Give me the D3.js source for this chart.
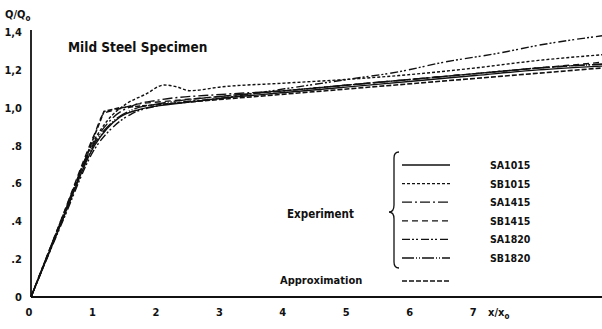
<html>
<head>
  <meta charset="utf-8">
  <title>Mild Steel Specimen</title>
  <style>
    body { margin: 0; background: #fff; }
    text { font-family: "DejaVu Sans Condensed", "DejaVu Sans", Arial; font-weight: bold; fill: #111; }
  </style>
  <script src="https://d3js.org/d3.v7.min.js"></script>
</head>
<body>
  <div id="chart"></div>
  <script>
// tick values and labels
var xTicks = [0, 1, 2, 3, 4, 5, 6, 7];
var yTicks = [0, 0.2, 0.4, 0.6, 0.8, 1.0, 1.2, 1.4];
var yTickLabels = ["0", ".2", ".4", ".6", ".8", "1,0", "1,2", "1,4"];

// series (x/x0, Q/Q0)
var sa1015 = [[0,0],[0.5,0.41],[1.0,0.80],[1.2,0.89],[1.4,0.95],[1.7,0.99],[2,1.01],[2.5,1.03],[3,1.05],[4,1.08],[5,1.11],[6,1.14],[7,1.17],[8,1.20],[9,1.22]];
var sb1015 = [[0,0],[0.5,0.42],[1.0,0.83],[1.2,0.93],[1.5,1.02],[1.8,1.07],[2.1,1.12],[2.3,1.11],[2.5,1.09],[3,1.11],[4,1.13],[5,1.15],[5.8,1.17],[7,1.21],[8,1.25],[9,1.28]];
var sa1415 = [[0,0],[0.5,0.42],[1.0,0.82],[1.3,0.95],[1.6,1.01],[2,1.04],[3,1.07],[4,1.09],[5,1.12],[6,1.15],[7,1.18],[8,1.21],[9,1.23]];
var sb1415 = [[0,0],[0.5,0.43],[1.0,0.86],[1.15,0.97],[1.35,0.99],[1.7,1.02],[2,1.03],[3,1.06],[4,1.09],[5,1.12],[6,1.15],[7,1.18],[8,1.21],[9,1.24]];
var sa1820 = [[0,0],[0.5,0.40],[1.0,0.78],[1.3,0.90],[1.6,0.97],[2,1.01],[3,1.05],[4,1.10],[5,1.15],[5.8,1.19],[6.5,1.24],[7.4,1.29],[8,1.33],[9,1.38]];
var sb1820 = [[0,0],[0.5,0.41],[1.0,0.81],[1.3,0.93],[1.6,0.99],[2,1.02],[3,1.06],[4,1.09],[5,1.12],[6,1.15],[7,1.18],[8,1.21],[9,1.23]];
var approx = [[0,0],[1.15,0.98],[1.4,1.0],[9,1.21]];

var seriesNames = ["SA1015", "SB1015", "SA1415", "SB1415", "SA1820", "SB1820"];
var seriesData = [sa1015, sb1015, sa1415, sb1415, sa1820, sb1820];
var dashes = ["none", "3,2", "10,3,2,3", "6,4", "8,2,2,2,2,3", "12,2,1,2,1,2"];

var W = 602, H = 329;
var x = d3.scaleLinear().domain([0, 9]).range([31, 602]);
var y = d3.scaleLinear().domain([0, 1.4]).range([297, 32]);

var svg = d3.select("#chart").append("svg")
    .attr("width", W).attr("height", H);

// axes
svg.append("line").attr("x1", x(0)).attr("x2", x(0)).attr("y1", 30).attr("y2", y(0))
    .attr("stroke", "#111").attr("stroke-width", 1.8);
svg.append("line").attr("x1", x(0)).attr("x2", W).attr("y1", y(0)).attr("y2", y(0))
    .attr("stroke", "#111").attr("stroke-width", 1.8);

svg.selectAll(".xt").data(xTicks).enter().append("text")
    .attr("x", function(d) { return x(d) - 2; })
    .attr("y", 316).attr("text-anchor", "middle").style("font-size", "11px")
    .text(function(d) { return d; });

svg.selectAll(".yt").data(yTicks).enter().append("text")
    .attr("x", 22).attr("y", function(d) { return y(d) + 4; })
    .attr("text-anchor", "end").style("font-size", "11px")
    .text(function(d, i) { return yTickLabels[i]; });

// axis titles
var yl = svg.append("text").attr("x", 5).attr("y", 18).style("font-size", "11px");
yl.append("tspan").text("Q/Q");
yl.append("tspan").attr("dy", 3).style("font-size", "8px").text("o");
var xl = svg.append("text").attr("x", 488).attr("y", 316).style("font-size", "11px");
xl.append("tspan").text("x/x");
xl.append("tspan").attr("dy", 3).style("font-size", "8px").text("o");

svg.append("text").attr("x", 68).attr("y", 52).style("font-size", "13.5px")
    .text("Mild Steel Specimen");

// curves
var line = d3.line()
    .x(function(d) { return x(d[0]); })
    .y(function(d) { return y(d[1]); })
    .curve(d3.curveMonotoneX);

svg.selectAll(".curve").data(seriesData).enter().append("path")
    .attr("d", line)
    .attr("fill", "none").attr("stroke", "#111").attr("stroke-width", 1.4)
    .attr("stroke-dasharray", function(d, i) { return dashes[i]; });

svg.append("path").datum(approx)
    .attr("d", line.curve(d3.curveLinear))
    .attr("fill", "none").attr("stroke", "#111").attr("stroke-width", 1.6)
    .attr("stroke-dasharray", "5,2");

// legend
var lx = 402, ly = 165, step = 18.6;
var leg = svg.selectAll(".legend").data(seriesNames).enter().append("g")
    .attr("transform", function(d, i) { return "translate(0," + (ly + i * step) + ")"; });
leg.append("line").attr("x1", lx).attr("x2", lx + 48).attr("y1", 0).attr("y2", 0)
    .attr("stroke", "#111").attr("stroke-width", 1.3)
    .attr("stroke-dasharray", function(d, i) { return dashes[i]; });
leg.append("text").attr("x", 490).attr("y", 4).style("font-size", "10.5px")
    .text(function(d) { return d; });

// brace
svg.append("path")
    .attr("d", "M399,152 Q394,152 394,158 L394,205 Q394,212 389,212 Q394,212 394,219 L394,262 Q394,268 399,268")
    .attr("fill", "none").attr("stroke", "#111").attr("stroke-width", 1.3);

svg.append("text").attr("x", 287).attr("y", 218).style("font-size", "11.5px").text("Experiment");
svg.append("text").attr("x", 280).attr("y", 284).style("font-size", "11px").text("Approximation");
svg.append("line").attr("x1", lx).attr("x2", lx + 48).attr("y1", 281).attr("y2", 281)
    .attr("stroke", "#111").attr("stroke-width", 1.5).attr("stroke-dasharray", "5,2");
  </script>
</body>
</html>
